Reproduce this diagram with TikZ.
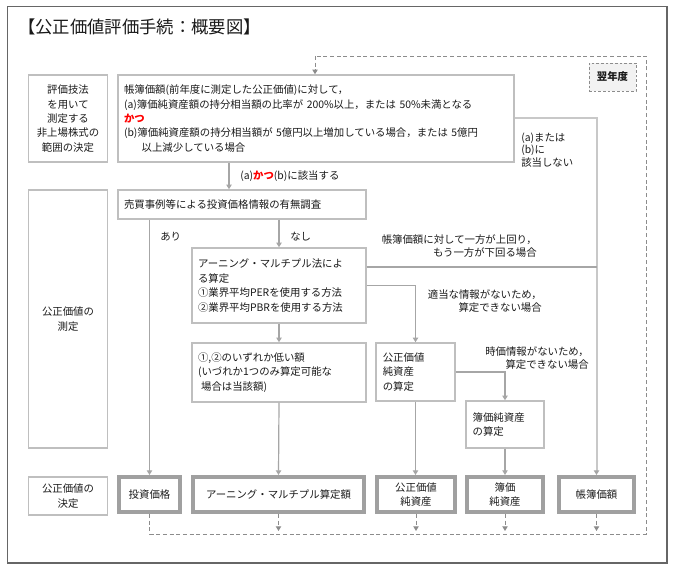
\documentclass[tikz,border=0pt]{standalone}
\usepackage{fontspec}
\setmainfont{Noto Sans CJK JP}
\usetikzlibrary{arrows.meta}
\definecolor{bgray}{HTML}{BFBFBF}
\definecolor{lgray}{HTML}{A6A6A6}
\definecolor{rgray}{HTML}{A0A0A0}
\definecolor{vgray}{HTML}{C8C8C8}
\definecolor{fgray}{HTML}{666666}
\definecolor{dgray}{HTML}{8C8C8C}
\definecolor{txt}{HTML}{1A1A1A}
\definecolor{kred}{HTML}{FF0000}
\definecolor{nyfill}{HTML}{F2F2F2}
\newcommand\pbx[7]{\node[#6, minimum width={(#4-#2)*0.75pt}, minimum height={(#5-#3)*0.75pt}] (#1) at ({(#2+#4)/2},{(#3+#5)/2}) {#7};}
\begin{document}
\begin{tikzpicture}[x=0.75pt,y=-0.75pt,
 every node/.style={text=txt},
 tf/.style={font=\fontsize{7.8}{10.8}\selectfont},
 lbox/.style={draw=bgray, line width=1.1pt, tf, align=center, inner sep=0pt},
 pbox/.style={draw=bgray, line width=1.1pt, tf, align=left, inner xsep=4.5pt, inner ysep=0pt},
 rbox/.style={draw=rgray, line width=3pt, tf, align=center, inner sep=0pt, fill=white},
 lab/.style={inner sep=0pt, font=\fontsize{7.8}{9.2}\selectfont},
 tipa/.style={-{Triangle[width=4pt,length=3.5pt]}},
 conn/.style={draw=lgray, line width=0.9pt, tipa},
 plain/.style={draw=lgray, line width=0.9pt},
 vline/.style={draw=vgray, line width=1.5pt},
 dsh/.style={draw=dgray, line width=0.7pt, dash pattern=on 3pt off 2pt},
]
\useasboundingbox (0,0) rectangle (678,570);
\fill[white] (0,0) rectangle (678,570);
\draw[fgray, line width=1.2pt] (7.5,6.5) rectangle (667,563);
\node[anchor=west, inner sep=0pt, font=\fontsize{13}{15}\selectfont] (title) at (18,27) {【公正価値評価手続：概要図】};

% left label boxes
\pbx{L1}{28.5}{75}{107.5}{162}{lbox}{評価技法\\を用いて\\測定する\\非上場株式の\\範囲の決定}
\pbx{L2}{28.5}{190}{107.5}{448}{lbox}{公正価値の\\測定}
\pbx{L3}{28.5}{477}{107.5}{515}{lbox}{公正価値の\\決定}

% process boxes
\pbx{t}{118}{75}{514}{162}{pbox, text width=288pt}{帳簿価額(前年度に測定した公正価値)に対して，\\(a)簿価純資産額の持分相当額の比率が 200\%以上，または 50\%未満となる\\{\bfseries\color{kred}かつ}\\(b)簿価純資産額の持分相当額が 5億円以上増加している場合，または 5億円\\\hspace*{1.7em}以上減少している場合}
\pbx{s}{118}{190}{366}{219}{pbox, text width=177pt}{売買事例等による投資価格情報の有無調査}
\pbx{e}{192}{248}{366}{323}{pbox, text width=121.5pt}{アーニング・マルチプル法によ\\る算定\\①業界平均PERを使用する方法\\②業界平均PBRを使用する方法}
\pbx{m}{192}{343}{366}{402}{pbox, text width=121.5pt}{①,②のいずれか低い額\\(いづれか1つのみ算定可能な\\\hspace*{0.3em}場合は当該額)}
\pbx{f}{376}{343}{455}{401}{pbox, inner xsep=5pt, text width=49pt}{公正価値\\純資産\\の算定}
\pbx{b}{466}{401}{544}{448}{pbox, inner xsep=5pt, text width=48.5pt}{簿価純資産\\の算定}

% result boxes
\pbx{r1}{119}{477}{180}{512}{rbox}{投資価格}
\pbx{r2}{193}{477}{364}{512}{rbox}{アーニング・マルチプル算定額}
\pbx{r3}{377}{477}{455}{512}{rbox}{公正価値\\純資産}
\pbx{r4}{467}{477}{543}{512}{rbox}{簿価\\純資産}
\pbx{r5}{559}{477}{634}{512}{rbox}{帳簿価額}

% next year box
\pbx{ny}{589}{63}{636}{91}{draw=dgray, line width=0.7pt, dash pattern=on 2pt off 1.5pt, fill=nyfill, inner sep=0pt, font=\bfseries\fontsize{7.8}{9}\selectfont}{翌年度}

% connectors
\coordinate (c229) at (229,0);
\coordinate (y267) at (0,267);
\draw[vline, -{Triangle[width=4pt,length=3.5pt,color=lgray]}] (t.east) -| (r5.north);
\draw[conn] (t.south -| c229) -- (s.north -| c229);
\draw[conn] (s.south -| r1.north) -- (r1.north);
\draw[conn] (s.south -| e.north) -- (e.north);
\draw[conn] (e.south) -- (m.north);
\draw[conn] (m.south) -- (r2.north);
\draw[conn] (e.east) -| (f.north);
\draw[plain] (e.east |- y267) -- (y267 -| r5.north);
\draw[conn] (f.east) -| (b.north);
\draw[conn] (f.south) -- (f.south |- r3.north);
\draw[conn] (b.south) -- (b.south |- r4.north);

% dashed next-year loop
\coordinate (dBR) at (646,534);
\coordinate (dTR) at (646,56);
\coordinate (dTL) at (315,56);
\coordinate (dA) at (0,531);
\draw[dsh] (r1.south) |- (dBR) -- (dTR) -- (dTL);
\draw[dsh, tipa] (dTL) -- (dTL |- t.north);
\foreach \r in {r2,r3,r4,r5} {\draw[dsh, tipa] (\r.south) -- (\r.south |- dA);}

% labels
\node[lab, anchor=west] (la) at (240,176) {(a){\bfseries\color{kred}かつ}(b)に該当する};
\node[lab, anchor=west] (lari) at (160,237) {あり};
\node[lab, anchor=west] (lnas) at (290,237) {なし};
\node[lab, anchor=east, align=right] (lud) at (537,246) {帳簿価額に対して一方が上回り，\\もう一方が下回る場合};
\node[lab, anchor=east, align=right] (lnf) at (542,301) {適当な情報がないため，\\算定できない場合};
\node[lab, anchor=east, align=right] (lji) at (589,358) {時価情報がないため，\\算定できない場合};
\node[lab, anchor=west, align=left] (lnot) at (521,150) {(a)または\\(b)に\\該当しない};
\end{tikzpicture}
\end{document}
